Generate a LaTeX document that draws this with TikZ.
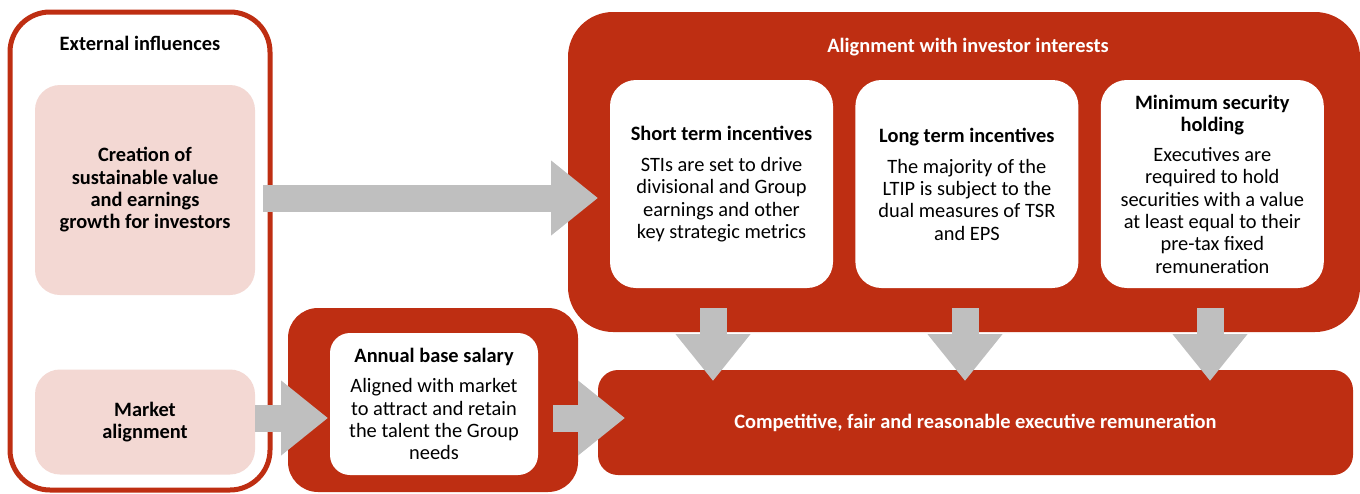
\documentclass[tikz,border=0pt]{standalone}
\usepackage{fontspec}
\setmainfont{Carlito}
\usepackage{tikz}
\usetikzlibrary{arrows.meta}
\usetikzlibrary{positioning}
\definecolor{remred}{RGB}{190,46,18}
\definecolor{rempink}{RGB}{243,216,211}
\definecolor{remgray}{RGB}{191,191,191}

\begin{document}
\begin{tikzpicture}[x=1pt,y=-1pt]
  \tikzset{mytext/.style={align=center, inner sep=0pt, font=\fontsize{20.4}{22.3}\selectfont}};
  \tikzset{outerbox/.style={draw=remred, line width=5pt, rounded corners=40pt, fill=white}};
  \tikzset{redbox/.style={fill=remred, rounded corners=30pt}};
  \tikzset{whitebox/.style={mytext, fill=white, rounded corners=26pt, minimum width=223pt, minimum height=208pt}};
  \tikzset{pinkbox/.style={mytext, fill=rempink, rounded corners=25pt, minimum width=220pt}};
  \tikzset{myarrow/.style={remgray, line width=27pt, -{Triangle[width=72pt,length=47pt]}}};

  \useasboundingbox (0,0) rectangle (1360,493);

  \node[outerbox, minimum width=260pt, minimum height=478pt] (ext) at (140,251) {};
  \node[mytext] (extt) at (140,43) {\textbf{External influences}};
  \node[pinkbox, minimum height=210pt] (value) at (145,190)
    {\textbf{Creation of}\\\textbf{sustainable value}\\\textbf{and earnings}\\\textbf{growth for investors}};
  \node[pinkbox, minimum height=105pt] (market) at (145,422)
    {\textbf{Market}\\\textbf{alignment}};

  \node[redbox, minimum width=290pt, minimum height=184pt] (base) at (433,400) {};
  \node[whitebox, minimum width=208pt, minimum height=142pt, rounded corners=20pt] (salary) at (434,404)
    {\textbf{Annual base salary}\\[8pt]Aligned with market\\to attract and retain\\the talent the Group\\needs};

  \node[redbox, rounded corners=45pt, minimum width=792pt, minimum height=320pt] (align) at (964,172) {};
  \node[mytext, text=white] (alignt) at (968,47) {\textbf{Alignment with investor interests}};
  \node[whitebox] (sti) at (721.5,184)
    {\textbf{Short term incentives}\\[9pt]STIs are set to drive\\divisional and Group\\earnings and other\\key strategic metrics};
  \node[whitebox, right=22pt] (lti) at (sti.east)
    {\textbf{Long term incentives}\\[9pt]The majority of the\\LTIP is subject to the\\dual measures of TSR\\and EPS};
  \node[whitebox, right=22pt] (msh) at (lti.east)
    {\textbf{Minimum security}\\\textbf{holding}\\[8pt]Executives are\\required to hold\\securities with a value\\at least equal to their\\pre-tax fixed\\remuneration};

  \node[redbox, mytext, text=white, rounded corners=20pt, minimum width=755pt, minimum height=105pt] (rem) at (975.5,422.5)
    {\textbf{Competitive, fair and reasonable executive remuneration}};

  \coordinate (a1) at (263,198);  \coordinate (b1) at (598,198);
  \coordinate (a2) at (255,418);  \coordinate (b2) at (328,418);
  \coordinate (a3) at (553,418);  \coordinate (b3) at (625,418);
  \draw [myarrow] (a1) -- (b1);
  \draw [myarrow] (a2) -- (b2);
  \draw [myarrow] (a3) -- (b3);

  \draw [myarrow] (713,308) -- (713,381);
  \draw [myarrow] (965,308) -- (965,381);
  \draw [myarrow] (1210,308) -- (1210,381);
\end{tikzpicture}
\end{document}
